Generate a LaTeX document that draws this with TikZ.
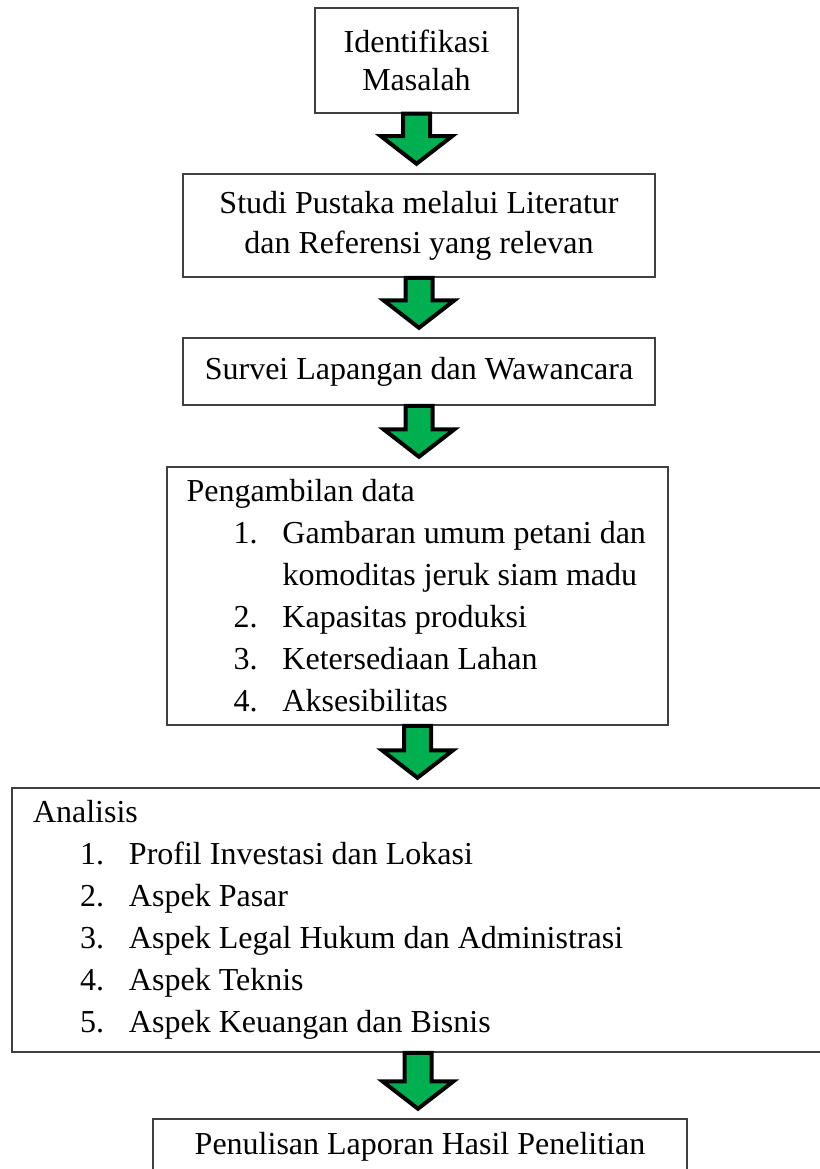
\documentclass[tikz,border=0pt]{standalone}
\usepackage{fontspec}
\setmainfont{Liberation Serif}
\usetikzlibrary{positioning,calc}
\definecolor{arrowgreen}{RGB}{0,176,80}
% fat block arrow from the bottom of one box to the top of the next
\newcommand{\fatarrow}[2]{%
  \draw[fat] let \p1=(#1.south), \p2=(#2.north) in
    (\x1-13.5pt,\y1) -- (\x1-13.5pt,\y2+37pt) -- (\x1-35.5pt,\y2+37pt)
    -- (\x1,\y2+9.5pt) -- (\x1+35.5pt,\y2+37pt) -- (\x1+13.5pt,\y2+37pt)
    -- (\x1+13.5pt,\y1) -- cycle;}
\newcommand{\numitem}[2]{\mbox{\hspace*{47pt}\makebox[49pt][l]{#1}#2}}
\newcommand{\numcont}[1]{\mbox{\hspace*{96pt}#1}}

\begin{document}
\begin{tikzpicture}[
  x=1pt,y=1pt,
  font=\fontsize{32pt}{40pt}\selectfont,
  box/.style={draw=black!75,line width=1.5pt,align=center,inner sep=0pt},
  listbox/.style={draw=black!75,line width=1.5pt,align=flush left,inner ysep=0pt,
                  font=\fontsize{32pt}{42pt}\selectfont},
  fat/.style={draw=black,line width=4pt,fill=arrowgreen,line join=miter}
]
\useasboundingbox (0,0) rectangle (819,-1169);
\node[box,minimum width=203pt,minimum height=105pt,
      font=\fontsize{32pt}{38pt}\selectfont] (ident) at (416.5,-60.5)
  {Identifikasi\\Masalah};
\node[box,minimum width=472pt,minimum height=103pt,below=59.5pt of ident,xshift=2.5pt] (studi)
  {Studi Pustaka melalui Literatur\\dan Referensi yang relevan};
\node[box,minimum width=472pt,minimum height=67pt,below=59.5pt of studi] (survei)
  {Survei Lapangan dan Wawancara};
\node[listbox,text width=462pt,inner xsep=19.5pt,minimum height=258pt,
      below=60.5pt of survei,xshift=-1.5pt] (ambil)
  {Pengambilan data\\
   \numitem{1.}{Gambaran umum petani dan}\\
   \numcont{komoditas jeruk siam madu}\\
   \numitem{2.}{Kapasitas produksi}\\
   \numitem{3.}{Ketersediaan Lahan}\\
   \numitem{4.}{Aksesibilitas}};
\node[listbox,text width=770pt,inner xsep=21pt,minimum height=264pt,
      below=61.5pt of ambil,xshift=0.5pt] (analisis)
  {Analisis\\
   \numitem{1.}{Profil Investasi dan Lokasi}\\
   \numitem{2.}{Aspek Pasar}\\
   \numitem{3.}{Aspek Legal Hukum dan Administrasi}\\
   \numitem{4.}{Aspek Teknis}\\
   \numitem{5.}{Aspek Keuangan dan Bisnis}};
\node[box,minimum width=534pt,minimum height=56pt,below=65.5pt of analisis,xshift=2pt] (tulis)
  {Penulisan Laporan Hasil Penelitian};
\fatarrow{ident}{studi}
\fatarrow{studi}{survei}
\fatarrow{survei}{ambil}
\fatarrow{ambil}{analisis}
\fatarrow{analisis}{tulis}
\end{tikzpicture}
\end{document}
